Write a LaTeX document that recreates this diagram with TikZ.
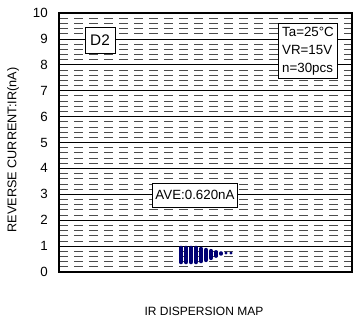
\documentclass[tikz,border=0pt]{standalone}
\usepackage{fontspec}
\setmainfont{Liberation Sans}
\begin{document}
\begin{tikzpicture}[x=0.75pt,y=0.75pt,
  minor/.style={black!70,line width=0.6pt,dash pattern=on 6.75pt off 4.5pt},
  major/.style={black,line width=0.5pt},
  frame/.style={black,line width=1.2pt},
  tick/.style={anchor=east,inner sep=0pt,font=\fontsize{10}{11}\selectfont},
  infobox/.style={draw=black,line width=0.6pt,fill=white,inner sep=2.5pt,font=\fontsize{10}{13.5}\selectfont,align=left}]
\def\xl{59};
\def\xr{352};
\def\yb{52};
\def\dy{25.9};

\useasboundingbox (0,0) rectangle (358,324);

% grid
\foreach \i in {1,...,49}{
  \pgfmathtruncatemacro{\r}{mod(\i,5)}
  \ifnum\r=0
    \draw[major] (\xl,\yb+\i*\dy/5) -- (\xr,\yb+\i*\dy/5);
  \else
    \draw[minor] (\xl,\yb+\i*\dy/5) -- (\xr,\yb+\i*\dy/5);
  \fi
}
\draw[frame] (\xl,\yb) rectangle (\xr,\yb+10*\dy);

% axis numbers
\foreach \i in {0,...,10}
  \node[tick] (t\i) at (\xl-11,\yb+\i*\dy) {\i};

% data
\foreach \x/\a/\b/\w in {181/248/262/4.6,186/248/262/4.6,191/248/262/4.6,196/248/262/4.6,201/249/261/4.6,206/250/260/4.4,211/251/258/4.2,216/252/256/3.8,221/253/254/3.5,226/253/253/3.3,231/253/253/3.1}
  \draw[blue!45!black,line width=\w*0.75pt,line cap=round] (\x,324-\a) -- (\x,324-\b);

% labels
\node[infobox,font=\fontsize{11.5}{12}\selectfont,minimum width=22.5pt,minimum height=19.5pt] (dev) at (100,284) {D2};
\node[infobox] (cond) at (308,273) {Ta=25°C\\VR=15V\\n=30pcs};
\node[infobox,minimum height=18pt] (ave) at (195,129) {AVE:0.620nA};

\node[rotate=90,font=\fontsize{9.5}{10}\selectfont] (ylab) at (13,174) {REVERSE CURRENT:IR(nA)};
\node[font=\fontsize{9}{10}\selectfont] (title) at (204,13) {IR DISPERSION MAP};
\end{tikzpicture}
\end{document}
